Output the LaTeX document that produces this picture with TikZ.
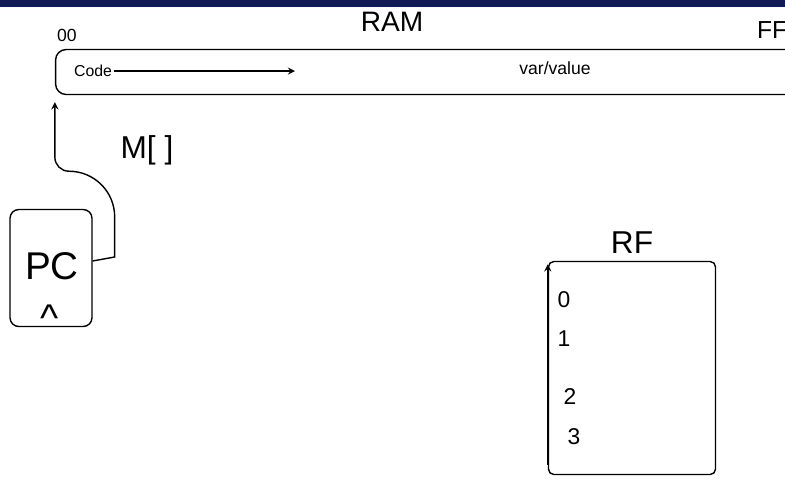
\documentclass[tikz,border=0pt]{standalone}
\usepackage{fontspec}
\setmainfont{Liberation Sans}
\usepackage{tikz}
\usetikzlibrary{arrows, positioning, calc}
\usepackage{xcolor}
\definecolor{barnavy}{RGB}{16,26,84}
\tikzset{
	memblock/.style={rectangle, rounded corners=6pt, draw=black,
		line width=0.8pt, minimum width=14.9cm, minimum height=0.9cm},
	pcbox/.style={rectangle, rounded corners=5pt, draw=black,
		line width=0.8pt, minimum width=1.64cm, minimum height=2.34cm},
	regbox/.style={rectangle, rounded corners=3pt, draw=black,
		line width=0.8pt, minimum width=3.34cm, minimum height=4.26cm},
	hand/.style={font=\fontsize{#1}{#1}\selectfont, inner sep=1pt},
	myarrow/.style={->, >=stealth, line width=0.8pt}
}

\begin{document}
\begin{tikzpicture}[x=0.02cm, y=-0.02cm, node distance=0.4cm and 1cm]
	\useasboundingbox (0,0) rectangle (785,485);
	
	%% title bar
	\fill[barnavy] (0,0) rectangle (785,7);
	
	%% RAM strip
	\node[memblock] (ram) at (428,72) {};
	\node[hand=16] (ramlbl) at (392,22) {RAM};
	\node[hand=10] (lo) at (67,35) {00};
	\node[hand=14, anchor=west] (hi) at (755,30) {FF};
	\node[hand=9, anchor=west] (code) at (72,71) {Code};
	\coordinate (codeend) at (295,71);
	\draw[myarrow] (code.east) -- (codeend);
	\node[hand=10] (vars) at (555,68) {var/value};
	
	%% program counter
	\node[pcbox] (pc) at (51,268) {};
	\node[hand=22] (pclbl) at (52,266) {PC};
	\node[hand=22] (caret) at (50,318) {\^{}};
	\node[hand=18] (mem) at (147,150) {M[ ]};
	
	\draw[myarrow] ([yshift=4pt]pc.east) -- ++(22,-4) -- ++(0,-40)
	to[out=90, in=0] ($(ram.south west)+(14,76)$)
	to[out=180, in=270] ($(ram.south west)+(0,62)$)
	-- ([yshift=-4pt]ram.south west);
	
	%% register file
	\node[regbox] (rf) at (632,368) {};
	\node[hand=18, above=0.1cm of rf] (rflbl) {RF};
	\draw[myarrow] ([yshift=6pt]rf.south west) -- ([yshift=-2pt]rf.north west);
	\node[hand=13] (r0) at (564,300) {0};
	\node[hand=13] (r1) at (564,339) {1};
	\node[hand=13] (r2) at (570,397) {2};
	\node[hand=13] (r3) at (574,437) {3};
	
\end{tikzpicture}
\end{document}
